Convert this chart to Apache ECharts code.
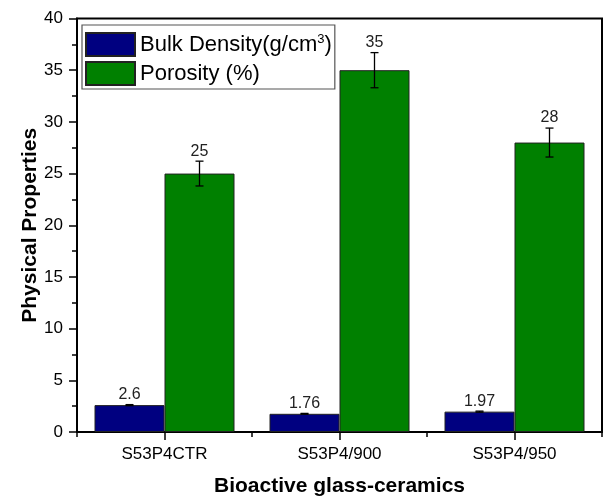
<!DOCTYPE html>
<html>
<head>
<meta charset="utf-8">
<script src="https://cdn.jsdelivr.net/npm/echarts@6/dist/echarts.min.js"></script>
<style>
  html, body { margin: 0; padding: 0; background: #fff; }
  #chart { width: 604px; height: 498px; }
</style>
</head>
<body>
<div id="chart"></div>
<script>
// Samples and measured properties
const categories = ['S53P4CTR', 'S53P4/900', 'S53P4/950'];
const bulkDensity = [2.6, 1.76, 1.97];
const bulkDensityErr = [0.05, 0.04, 0.05];
const porosity = [25, 35, 28];
const porosityErr = [1.2, 1.7, 1.4];
const yTicks = [0, 5, 10, 15, 20, 25, 30, 35, 40];

const FONT = 'Liberation Sans, Arial, sans-serif';
const BLUE = '#000080';
const GREEN = '#008000';

// Whiskers plus a value label above each bar; side = -1 (left bar) or +1 (right bar)
function errorBarSeries(values, errs, side) {
  return {
    type: 'custom',
    xAxisIndex: 0,
    yAxisIndex: 0,
    z: 5,
    encode: { x: 0, y: 1 },
    data: values.map((v, i) => [i, v, errs[i]]),
    renderItem: function (params, api) {
      const idx = api.value(0);
      const v = api.value(1);
      const e = api.value(2);
      const band = api.size([1, 0])[0];
      const off = side * band * 0.2;
      const top = api.coord([idx, v + e]);
      const bot = api.coord([idx, v - e]);
      const x = top[0] + off;
      const cap = 4;
      const ls = { stroke: '#000', lineWidth: 1.3 };
      return {
        type: 'group',
        children: [
          { type: 'line', shape: { x1: x, y1: top[1], x2: x, y2: bot[1] }, style: ls },
          { type: 'line', shape: { x1: x - cap, y1: top[1], x2: x + cap, y2: top[1] }, style: ls },
          { type: 'line', shape: { x1: x - cap, y1: bot[1], x2: x + cap, y2: bot[1] }, style: ls },
          {
            type: 'text',
            style: {
              x: x, y: top[1] - 2,
              text: String(values[params.dataIndex]),
              fill: '#222',
              font: '16px ' + FONT,
              align: 'center',
              verticalAlign: 'bottom'
            }
          }
        ]
      };
    }
  };
}

const chart = echarts.init(document.getElementById('chart'), null, { renderer: 'canvas' });

chart.setOption({
  animation: false,
  backgroundColor: '#fff',
  textStyle: { fontFamily: FONT },
  grid: {
    left: 77, right: 2, top: 18.5, bottom: 66,
    outerBoundsMode: 'none',
    containLabel: false,
    show: true, borderColor: '#000', borderWidth: 2, backgroundColor: 'transparent'
  },
  legend: {
    data: ['Bulk Density', 'Porosity (%)'],
    orient: 'vertical',
    left: 82, top: 25,
    padding: [7, 3, 3, 3],
    itemGap: 4,
    itemWidth: 49,
    itemHeight: 23,
    icon: 'rect',
    backgroundColor: '#fff',
    borderColor: '#555',
    borderWidth: 1.2,
    borderRadius: 0,
    selectedMode: false,
    formatter: function (name) {
      return name === 'Bulk Density' ? 'Bulk Density(g/cm{sup|3})' : name;
    },
    textStyle: {
      fontFamily: FONT,
      fontSize: 22,
      color: '#000',
      lineHeight: 24,
      rich: {
        sup: { fontSize: 13, fontFamily: FONT, color: '#000', verticalAlign: 'top', lineHeight: 24, padding: [0, 0, 8, 0] }
      }
    }
  },
  xAxis: [
    {
      type: 'category',
      data: categories,
      position: 'bottom',
      axisLine: { show: true, lineStyle: { color: '#000', width: 2 } },
      axisTick: { show: true, alignWithLabel: true, inside: false, length: 8, lineStyle: { color: '#000', width: 1.5 } },
      axisLabel: { color: '#000', fontSize: 17, fontFamily: FONT, margin: 14 },
      splitLine: { show: false },
      name: 'Bioactive glass-ceramics',
      nameLocation: 'middle',
      nameGap: 44,
      nameMoveOverlap: false,
      nameTextStyle: { fontSize: 21, fontWeight: 'bold', color: '#000', fontFamily: FONT }
    },
    {
      // boundary ticks between sample groups
      type: 'category',
      data: categories,
      position: 'bottom',
      axisLine: { show: false },
      axisTick: { show: true, alignWithLabel: false, length: 5, lineStyle: { color: '#000', width: 1.5 } },
      axisLabel: { show: false },
      splitLine: { show: false }
    }
  ],
  yAxis: {
    type: 'value',
    min: yTicks[0],
    max: yTicks[yTicks.length - 1],
    interval: yTicks[1] - yTicks[0],
    axisLine: { show: true, lineStyle: { color: '#000', width: 2 } },
    axisTick: { show: true, length: 8, lineStyle: { color: '#000', width: 1.5 } },
    minorTick: { show: true, splitNumber: 2, length: 5, lineStyle: { color: '#000', width: 1.5 } },
    axisLabel: { color: '#000', fontSize: 17, fontFamily: FONT, margin: 14 },
    splitLine: { show: false },
    name: 'Physical Properties',
    nameLocation: 'middle',
    nameGap: 36,
    nameMoveOverlap: false,
    nameTextStyle: { fontSize: 21, fontWeight: 'bold', color: '#000', fontFamily: FONT }
  },
  series: [
    {
      name: 'Bulk Density',
      type: 'bar',
      data: bulkDensity,
      barWidth: '40%',
      barGap: '0%',
      itemStyle: { color: BLUE, borderColor: '#222', borderWidth: 1 }
    },
    {
      name: 'Porosity (%)',
      type: 'bar',
      data: porosity,
      barWidth: '40%',
      barGap: '0%',
      itemStyle: { color: GREEN, borderColor: '#222', borderWidth: 1 }
    },
    errorBarSeries(bulkDensity, bulkDensityErr, -1),
    errorBarSeries(porosity, porosityErr, 1)
  ]
});
</script>
</body>
</html>
